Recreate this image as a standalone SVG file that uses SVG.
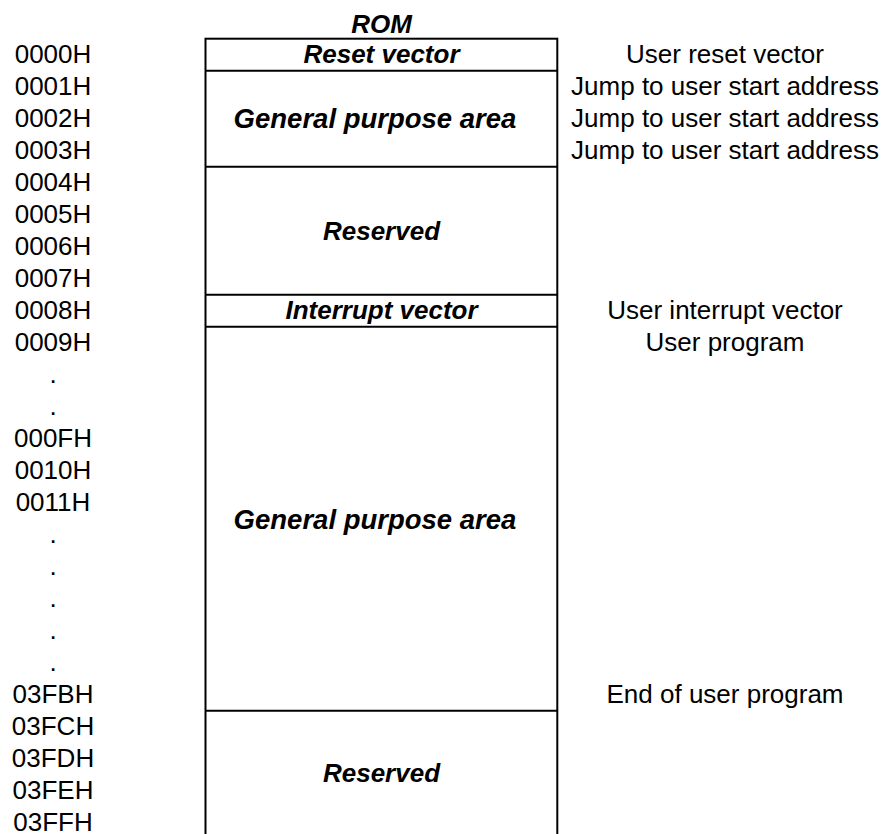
<svg xmlns="http://www.w3.org/2000/svg" width="887" height="834" viewBox="0 0 887 834">
<style>
text{font-family:"Liberation Sans",Arial,sans-serif;font-size:26px;fill:#000}
.a{text-anchor:middle}
.b{font-weight:bold;font-style:italic;text-anchor:middle}
.g{font-size:27.5px}
.r{text-anchor:middle}
.ln{stroke:#000;stroke-width:2;fill:none}
</style>
<rect width="887" height="834" fill="#fff"/>
<g id="title"><text class="b" x="381.5" y="33">ROM</text></g>
<g id="rom-map">
<rect class="ln" x="205.5" y="38.7" width="351.8" height="800"/>
<g id="reset-vector"><line class="ln" x1="205.5" y1="70.7" x2="557.3" y2="70.7"/><text class="b" x="381.5" y="63.3">Reset vector</text></g>
<g id="gpa-1"><line class="ln" x1="205.5" y1="166.7" x2="557.3" y2="166.7"/><text class="b g" x="375" y="128">General purpose area</text></g>
<g id="reserved-1"><line class="ln" x1="205.5" y1="294.7" x2="557.3" y2="294.7"/><text class="b" x="381.5" y="240">Reserved</text></g>
<g id="interrupt-vector"><line class="ln" x1="205.5" y1="326.7" x2="557.3" y2="326.7"/><text class="b" x="381.5" y="319.3">Interrupt vector</text></g>
<g id="gpa-2"><line class="ln" x1="205.5" y1="710.7" x2="557.3" y2="710.7"/><text class="b g" x="375" y="528.5">General purpose area</text></g>
<g id="reserved-2"><text class="b" x="381.5" y="781.7">Reserved</text></g>
</g>
<g id="addresses">
<text class="a" x="53" y="63.3">0000H</text>
<text class="a" x="53" y="95.3">0001H</text>
<text class="a" x="53" y="127.3">0002H</text>
<text class="a" x="53" y="159.3">0003H</text>
<text class="a" x="53" y="191.3">0004H</text>
<text class="a" x="53" y="223.3">0005H</text>
<text class="a" x="53" y="255.3">0006H</text>
<text class="a" x="53" y="287.3">0007H</text>
<text class="a" x="53" y="319.3">0008H</text>
<text class="a" x="53" y="351.3">0009H</text>
<text class="a" x="53" y="383.3">.</text>
<text class="a" x="53" y="415.3">.</text>
<text class="a" x="53" y="447.3">000FH</text>
<text class="a" x="53" y="479.3">0010H</text>
<text class="a" x="53" y="511.3">0011H</text>
<text class="a" x="53" y="543.3">.</text>
<text class="a" x="53" y="575.3">.</text>
<text class="a" x="53" y="607.3">.</text>
<text class="a" x="53" y="639.3">.</text>
<text class="a" x="53" y="671.3">.</text>
<text class="a" x="53" y="703.3">03FBH</text>
<text class="a" x="53" y="735.3">03FCH</text>
<text class="a" x="53" y="767.3">03FDH</text>
<text class="a" x="53" y="799.3">03FEH</text>
<text class="a" x="53" y="830.5">03FFH</text>
</g>
<g id="descriptions">
<text class="r" x="725" y="63.3">User reset vector</text>
<text class="r" x="725" y="95.3">Jump to user start address</text>
<text class="r" x="725" y="127.3">Jump to user start address</text>
<text class="r" x="725" y="159.3">Jump to user start address</text>
<text class="r" x="725" y="319.3">User interrupt vector</text>
<text class="r" x="725" y="351.3">User program</text>
<text class="r" x="725" y="703.3">End of user program</text>
</g>
</svg>
